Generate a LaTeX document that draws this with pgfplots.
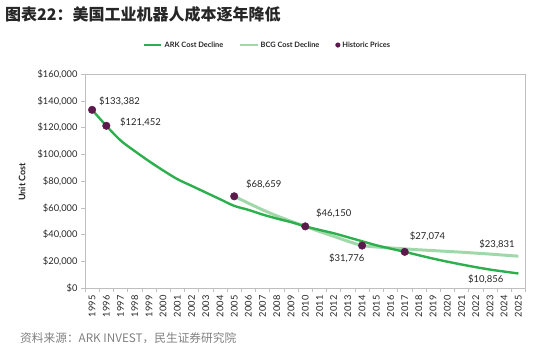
\documentclass[border=0pt]{standalone}
\usepackage{pgfplots}
\pgfplotsset{compat=1.18}
\usepackage{fontspec}
\setmainfont{Lato}
\newfontfamily\cjk{Noto Sans CJK SC}
\definecolor{arkgreen}{RGB}{44,176,78}
\definecolor{bcggreen}{RGB}{160,216,170}
\definecolor{histpurple}{RGB}{92,26,76}
\definecolor{framegray}{RGB}{191,191,191}
\definecolor{txt}{RGB}{38,38,38}
\definecolor{srcgray}{RGB}{128,128,128}
\pgfplotstableread{
year cost
1995 133382
1996 121452
1997 110500
1998 102500
1999 95000
2000 88000
2001 81500
2002 76500
2003 71500
2004 66500
2005 61500
2006 58500
2007 55000
2008 52000
2009 49300
2010 46150
2011 43500
2012 41000
2013 38000
2014 35000
2015 32000
2016 29500
2017 27074
2018 24500
2019 22000
2020 19700
2021 17600
2022 15600
2023 13800
2024 12300
2025 10856
}\arkdata
\pgfplotstableread{
year cost
2005 68659
2006 63500
2007 58500
2008 54000
2009 50000
2010 46150
2011 42300
2012 38700
2013 35000
2014 31776
2015 30700
2016 30000
2017 29300
2018 28600
2019 28000
2020 27400
2021 26800
2022 26100
2023 25400
2024 24600
2025 23831
}\bcgdata
\pgfplotstableread{
year cost
1995 133382
1996 121452
2005 68659
2010 46150
2014 31776
2017 27074
}\histdata
\begin{document}
\begin{tikzpicture}[x=1pt,y=1pt]
\path[use as bounding box] (0,0) rectangle (554,347);
\node[anchor=west,font=\cjk\bfseries\fontsize{16}{18}\selectfont,text=txt,inner sep=0] at (5,333) {图表22：美国工业机器人成本逐年降低};
\node[anchor=west,font=\cjk\fontsize{11.7}{14}\selectfont,text=srcgray,inner sep=0] at (20,9) {资料来源：ARK INVEST，民生证券研究院};
\begin{axis}[
  at={(85pt,59pt)}, anchor=south west,
  scale only axis, width=440.5pt, height=213.7pt,
  xmin=1994.5, xmax=2025.5, ymin=0, ymax=160000,
  axis line style={framegray, line width=0.8pt},
  xtick={1995,...,2025},
  major x tick style={draw=none},
  minor xtick={1994.5,1995.5,...,2025.5},
  minor x tick style={framegray, line width=0.6pt},
  minor tick length=4pt,
  xtick pos=bottom, ytick pos=left,
  tick align=outside,
  ytick={0,20000,...,160000},
  major y tick style={framegray, line width=0.6pt},
  major tick length=4pt,
  /pgf/number format/assume math mode=true,
  xticklabel style={rotate=90, anchor=east, font=\fontsize{9.3}{10}\selectfont, text=txt, /pgf/number format/1000 sep={}},
  yticklabel style={font=\fontsize{9.3}{10}\selectfont, text=txt},
  yticklabel={\$\pgfmathprintnumber[fixed,1000 sep={,}]{\tick}},
  scaled y ticks=false,
  legend columns=3,
  legend style={draw=none, fill=none, at={(0.1317,1.137)}, anchor=west, inner sep=0pt,
     font=\bfseries\fontsize{7.4}{9}\selectfont, text=txt,
     /tikz/every even column/.append style={column sep=14pt}},
  legend cell align=left,
  clip=false,
]
\addlegendimage{arkgreen, line width=2.4pt}
\addlegendentry{ARK Cost Decline}
\addlegendimage{bcggreen, line width=2.4pt}
\addlegendentry{BCG Cost Decline}
\addlegendimage{only marks, mark=*, mark size=2.3pt, mark options={histpurple, fill=histpurple}, legend image code/.code={\fill[histpurple] (0.05cm,0cm) circle (2.3pt);}}
\addlegendentry{Historic Prices}
\addplot[forget plot, bcggreen, line width=3pt, smooth, tension=0.3] table[x=year,y=cost]{\bcgdata};
\addplot[forget plot, arkgreen, line width=2.4pt, smooth, tension=0.5] table[x=year,y=cost]{\arkdata};
\addplot[forget plot, only marks, mark=*, mark size=3.8pt, mark options={histpurple, fill=histpurple}] table[x=year,y=cost]{\histdata};
\node[rotate=90, font=\bfseries\fontsize{9}{10}\selectfont, text=txt, inner sep=0] at (rel axis cs:-0.143,0.496) {Unit Cost};
\begin{scope}[every node/.style={font=\fontsize{9.5}{10}\selectfont, text=txt, inner sep=0}]
\node at (axis cs:1996.93,139500) {\$133,382};
\node at (axis cs:1998.40,124200) {\$121,452};
\node at (axis cs:2007.08,77400) {\$68,659};
\node at (axis cs:2012.00,55600) {\$46,150};
\node at (axis cs:2012.92,22300) {\$31,776};
\node at (axis cs:2018.60,39100) {\$27,074};
\node at (axis cs:2023.50,33100) {\$23,831};
\node at (axis cs:2022.70,6500) {\$10,856};
\end{scope}
\end{axis}
\end{tikzpicture}
\end{document}
